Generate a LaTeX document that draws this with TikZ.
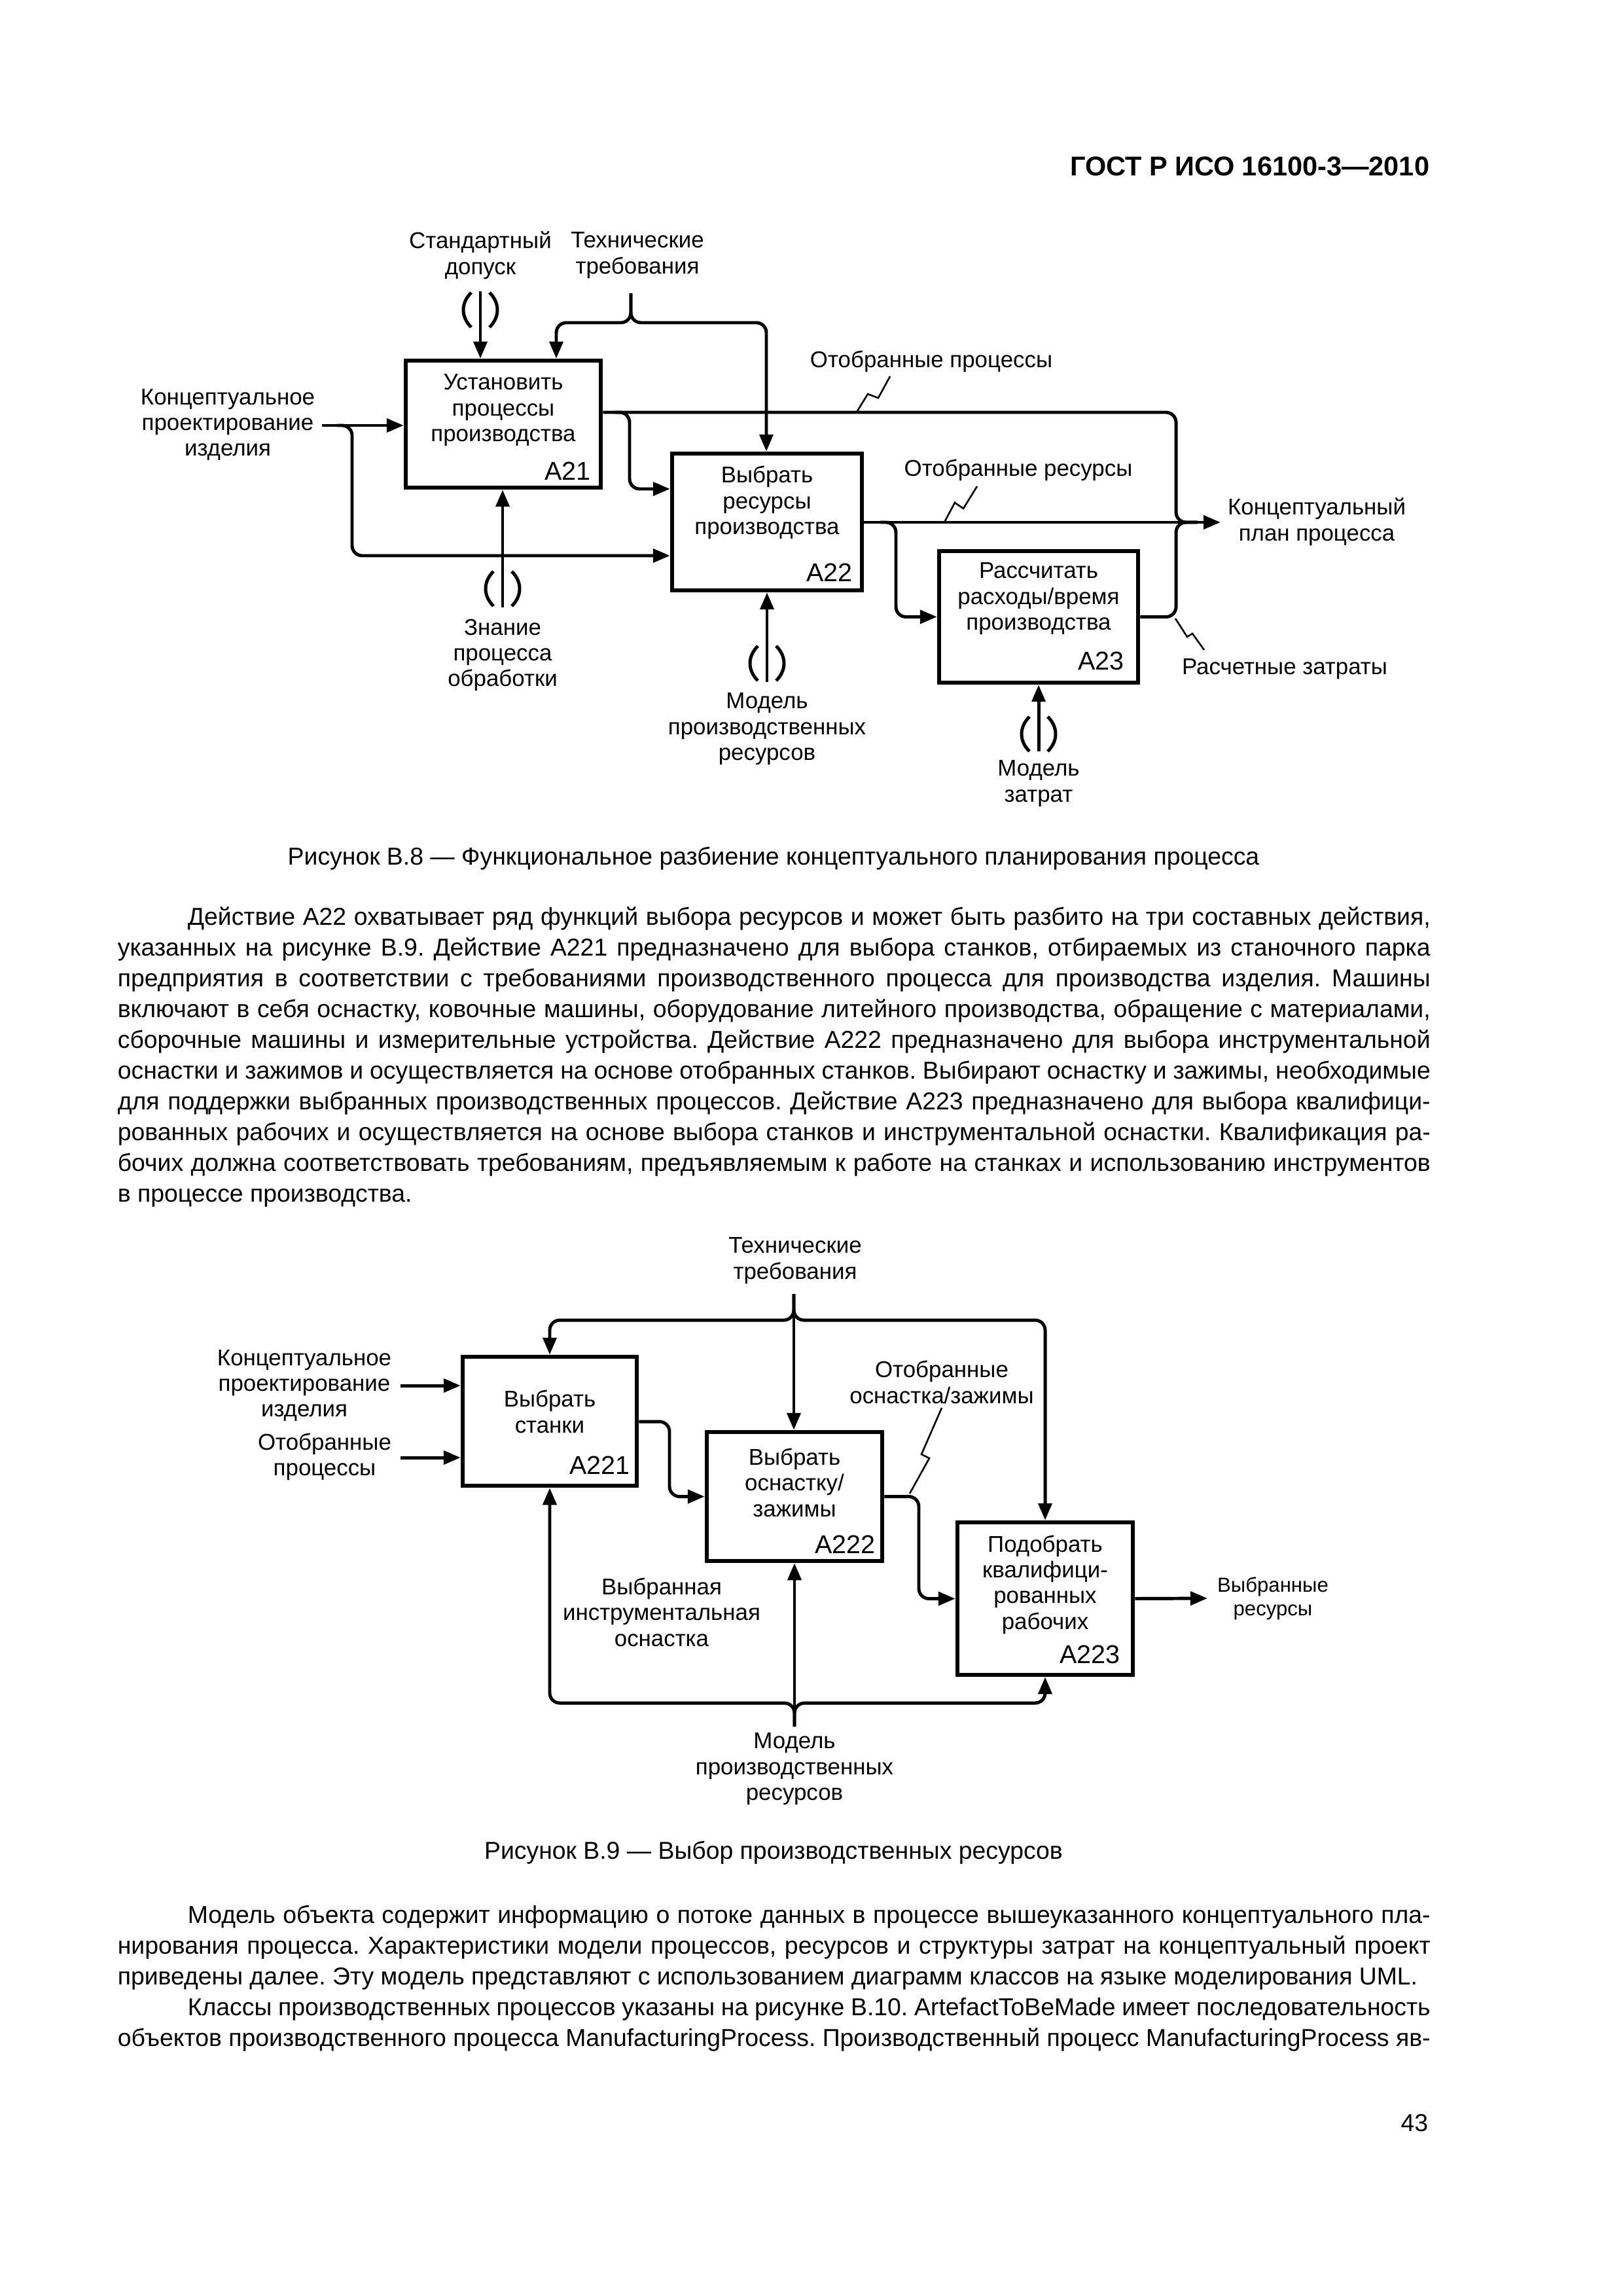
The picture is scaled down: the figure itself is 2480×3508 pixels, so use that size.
\documentclass[tikz,border=0pt]{standalone}
\usepackage{fontspec}
\setmainfont{Liberation Sans}
\usetikzlibrary{arrows.meta,fit}
\frenchspacing
\newcommand\dfont{\fontsize{8.4}{9.5}\selectfont}
\newcommand\nfont{\fontsize{9.5}{11}\selectfont}
\newcommand\smfont{\fontsize{7.5}{8.6}\selectfont}
\newcommand\bodyfont{\fontsize{9}{11.33}\selectfont\frenchspacing}
\newcommand\tunnelmark[2]{%
  \draw[ln] (#1-14,#2) .. controls (#1-30,#2+16) and (#1-30,#2+37) .. (#1-14,#2+53);
  \draw[ln] (#1+14,#2) .. controls (#1+30,#2+16) and (#1+30,#2+37) .. (#1+14,#2+53);}
\newcommand\wsp{\spaceskip=.278em plus .8em minus .12em\relax\xspaceskip=\spaceskip}
\newcommand\fline[1]{\hbox to 169.84mm{\wsp #1}}
\newcommand\iline[1]{\hbox to 169.84mm{\wsp\kern9.06mm#1}}
\newcommand\nline[1]{\hbox{\wsp #1}}
\tikzset{
  box/.style={draw, line width=0.55mm, inner sep=0pt},
  ln/.style={line width=0.42mm},
  arr/.style={ln, -{Triangle[length=2.2mm,width=1.75mm]}},
  sq/.style={line width=0.22mm},
  lbl/.style={align=center, inner sep=0pt, font=\dfont},
  num/.style={inner sep=0pt, font=\nfont, anchor=east},
  bodytext/.style={inner sep=0pt, font=\bodyfont, text width=169.84mm, anchor=base west},
  rc/.style={rounded corners=1.3mm}
}
\begin{document}
\begin{tikzpicture}[x=0.084667mm, y=-0.084667mm]
\fill[white] (0,0) rectangle (2480,3508);
\useasboundingbox (0,0) rectangle (2480,3508);

% header
\node[anchor=base east, inner sep=0pt, font=\fontsize{10}{12}\selectfont\bfseries] (hdr) at (2185,268) {ГОСТ Р ИСО 16100-3—2010};

% ---------- Diagram B.8 ----------
\node[box, fit={(620,551) (918,745)}] (a21) {};
\node[box, fit={(1027,693) (1317,902)}] (a22) {};
\node[box, fit={(1435,842) (1739,1043)}] (a23) {};

\node[lbl] (t21) at (769,627) {Установить\\процессы\\производства};
\node[num] (n21) at (903,720) {А21};
\node[lbl] (t22) at (1172,768) {Выбрать\\ресурсы\\производства};
\node[num] (n22) at (1303,875) {А22};
\node[lbl] (t23) at (1587,915) {Рассчитать\\расходы/время\\производства};
\node[num] (n23) at (1718,1010) {А23};

\node[lbl] (lstd) at (734,390) {Стандартный\\допуск};
\node[lbl] (ltr) at (974,390) {Технические\\требования};
\node[lbl] (lop) at (1423,552) {Отобранные процессы};
\node[lbl] (lcd) at (348,649) {Концептуальное\\проектирование\\изделия};
\node[lbl] (lor) at (1556,718) {Отобранные ресурсы};
\node[lbl] (lcp) at (2012,797) {Концептуальный\\план процесса};
\node[lbl] (lrz) at (1963,1022) {Расчетные затраты};
\node[lbl] (lzn) at (768,1001) {Знание\\процесса\\обработки};
\node[lbl] (lmr) at (1172,1114) {Модель\\производственных\\ресурсов};
\node[lbl] (lmz) at (1587,1197) {Модель\\затрат};

% controls from above
\coordinate (std) at (734,445);
\draw[arr] (std) -- (std |- a21.north);
\tunnelmark{734}{447}
\coordinate (trq) at (964,448);
\draw[arr, rc] (trq) |- (850,493) -- (850,0 |- a21.north);
\draw[arr, rc] (trq) |- (1171,493) -- (1171,0 |- a22.north);

% input
\coordinate (cdi) at (492,650);
\draw[arr] (cdi) -- (cdi -| a21.west);
\draw[arr, rc] (515,650) -| (538,849) -- (a22.west |- 0,849);

% A21 output
\draw[ln, rc] (a21.east |- 0,630) -- (1797,630) -- (1797,798) -- (1830,798);
\draw[arr, rc] (940,630) -| (962,747) -- (a22.west |- 0,747);

% A22 output
\coordinate (cpp) at (1865,798);
\draw[arr] (a22.east |- cpp) -- (cpp);
\draw[arr, rc] (1345,798) -| (1369,0 |- a23.west) -- (a23.west);

% A23 output
\draw[ln, rc] (a23.east) -- (1797,0 |- a23.east) -- (1797,798) -- (1830,798);

% mechanisms
\coordinate (kn) at (768,928);
\draw[arr] (kn) -- (kn |- a21.south);
\tunnelmark{768}{873}
\coordinate (mr) at (1172,1042);
\draw[arr] (mr) -- (mr |- a22.south);
\tunnelmark{1172}{987}
\coordinate (mz) at (1587,1148);
\draw[arr] (mz) -- (mz |- a23.south);
\tunnelmark{1587}{1095}

% squiggles
\draw[sq] (1360,575) -- (1342,608) -- (1326,602) -- (1310,628);
\draw[sq] (1493,743) -- (1472,777) -- (1459,768) -- (1444,796);
\draw[sq] (1796,945) -- (1814,973) -- (1822,968) -- (1840,993);

\node[anchor=base, inner sep=0pt, font=\bodyfont] (cap8) at (1182,1321) {Рисунок В.8 — Функциональное разбиение концептуального планирования процесса};

% ---------- paragraph ----------
\node[bodytext] (par1) at (179,1413) {%
\iline{Действие А22 охватывает ряд функций выбора ресурсов и может быть разбито на три составных действия,}
\fline{указанных на рисунке В.9. Действие А221 предназначено для выбора станков, отбираемых из станочного парка}
\fline{предприятия в соответствии с требованиями производственного процесса для производства изделия. Машины}
\fline{включают в себя оснастку, ковочные машины, оборудование литейного производства, обращение с материалами,}
\fline{сборочные машины и измерительные устройства. Действие А222 предназначено для выбора инструментальной}
\fline{оснастки и зажимов и осуществляется на основе отобранных станков. Выбирают оснастку и зажимы, необходимые}
\fline{для поддержки выбранных производственных процессов. Действие А223 предназначено для выбора квалифици-}
\fline{рованных рабочих и осуществляется на основе выбора станков и инструментальной оснастки. Квалификация ра-}
\fline{бочих должна соответствовать требованиям, предъявляемым к работе на станках и использованию инструментов}
\nline{в процессе производства.}};

% ---------- Diagram B.9 ----------
\node[box, fit={(707,2073) (973,2270)}] (a221) {};
\node[box, fit={(1080,2188) (1348,2385)}] (a222) {};
\node[box, fit={(1463,2326) (1731,2559)}] (a223) {};

\node[lbl] (t221) at (840,2157) {Выбрать\\станки};
\node[num] (n221) at (963,2239) {А221};
\node[lbl] (t222) at (1214,2265) {Выбрать\\оснастку/\\зажимы};
\node[num] (n222) at (1338,2360) {А222};
\node[lbl] (t223) at (1597,2421) {Подобрать\\квалифици-\\рованных\\рабочих};
\node[num] (n223) at (1712,2528) {А223};

\node[lbl] (ltr2) at (1215,1926) {Технические\\требования};
\node[lbl] (lcd2) at (465,2117) {Концептуальное\\проектирование\\изделия};
\node[lbl] (lop2) at (496,2226) {Отобранные\\процессы};
\node[lbl] (los) at (1439,2112) {Отобранные\\оснастка/зажимы};
\node[lbl, font=\smfont] (lvr) at (1945,2442) {Выбранные\\ресурсы};
\node[lbl] (lvi) at (1011,2463) {Выбранная\\инструментальная\\оснастка};
\node[lbl] (lmr2) at (1214,2703) {Модель\\производственных\\ресурсов};

\coordinate (tr2) at (1213,1977);
\draw[arr] (tr2) -- (tr2 |- a222.north);
\draw[arr, rc] (tr2) |- (840,2017) -- (840,0 |- a221.north);
\draw[arr, rc] (tr2) |- (1597,2017) -- (1597,0 |- a223.north);

\coordinate (i1) at (612,2117);
\draw[arr] (i1) -- (i1 -| a221.west);
\coordinate (i2) at (612,2227);
\draw[arr] (i2) -- (i2 -| a221.west);

\draw[arr, rc] (a221.east |- 0,2172) -| (1023,0 |- a222.west) -- (a222.west);
\draw[arr, rc] (a222.east) -| (1404,0 |- a223.west) -- (a223.west);
\coordinate (o2) at (1845,2442);
\draw[arr] (a223.east) -- (o2);

\coordinate (mb) at (1214,2638);
\draw[arr] (mb) -- (mb |- a222.south);
\draw[arr, rc] (mb) |- (840,2602) -- (840,0 |- a221.south);
\draw[arr, rc] (mb) |- (1597,2602) -- (1597,0 |- a223.south);

\draw[sq] (1439,2151) -- (1408,2222) -- (1420,2228) -- (1390,2282);

\node[anchor=base, inner sep=0pt, font=\bodyfont] (cap9) at (1182,2840) {Рисунок В.9 — Выбор производственных ресурсов};

\node[bodytext] (par2) at (179,2938) {%
\iline{Модель объекта содержит информацию о потоке данных в процессе вышеуказанного концептуального пла-}
\fline{нирования процесса. Характеристики модели процессов, ресурсов и структуры затрат на концептуальный проект}
\nline{приведены далее. Эту модель представляют с использованием диаграмм классов на языке моделирования UML.}
\iline{Классы производственных процессов указаны на рисунке В.10. ArtefactToBeMade имеет последовательность}
\fline{объектов производственного процесса ManufacturingProcess. Производственный процесс ManufacturingProcess яв-}};

\node[anchor=base east, inner sep=0pt, font=\bodyfont] (pg) at (2183,3256) {43};
\end{tikzpicture}
\end{document}
